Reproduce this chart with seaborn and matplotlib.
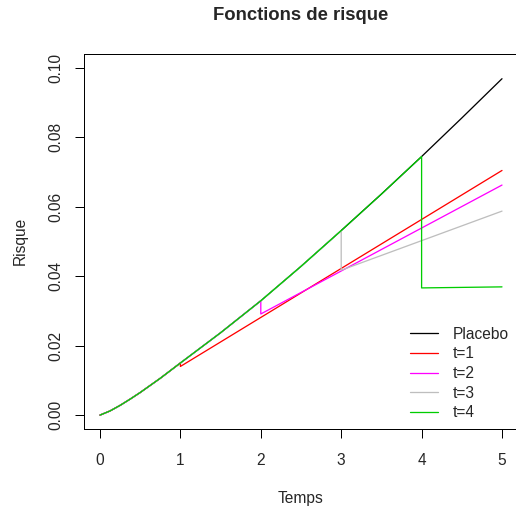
import numpy as np
import pandas as pd
import matplotlib
matplotlib.use("Agg")
import matplotlib.pyplot as plt
from matplotlib.lines import Line2D
import seaborn as sns

# ---- data ----
placebo_t = [0, 0.125, 0.25, 0.375, 0.5, 0.75, 1, 1.5, 2, 2.5, 3, 3.5, 4, 4.5, 5]
placebo_r = [0, 0.0012, 0.0028, 0.0046, 0.0065, 0.0106, 0.0150, 0.0237, 0.0329,
             0.0428, 0.0531, 0.0636, 0.0744, 0.0855, 0.0968]

switch_times = [1, 2, 3, 4]
drop_values = [0.0140, 0.0291, 0.0417, 0.0366]   # risk right after switching
end_values = [0.0704, 0.0662, 0.0587, 0.0369]    # risk at time 5

series_names = ["Placebo", "t=1", "t=2", "t=3", "t=4"]
series_colors = ["#000000", "#FF0000", "#FF00FF", "#BEBEBE", "#00CD00"]

x_ticks = [0, 1, 2, 3, 4, 5]
y_ticks = [0.00, 0.02, 0.04, 0.06, 0.08, 0.10]
y_tick_labels = ["0.00", "0.02", "0.04", "0.06", "0.08", "0.10"]

# ---- build long table ----
rows = []
for t, r in zip(placebo_t, placebo_r):
    rows.append(("Placebo", t, r))
for name, ts, d, e in zip(series_names[1:], switch_times, drop_values, end_values):
    for t, r in zip(placebo_t, placebo_r):
        if t <= ts:
            rows.append((name, t, r))
    rows.append((name, ts, d))
    rows.append((name, 5, e))
df = pd.DataFrame(rows, columns=["serie", "Temps", "Risque"])

sns.set_style("white")
plt.rcParams["font.family"] = ["Liberation Sans", "DejaVu Sans"]

W, H = 516, 510
FS = 15.5
fig = plt.figure(figsize=(W / 72, H / 72), dpi=72)
right_px = 522
ax = fig.add_axes([84 / W, 81 / H, (right_px - 84) / W, 375.3 / H])

sns.lineplot(data=df, x="Temps", y="Risque", hue="serie", hue_order=series_names,
             palette=dict(zip(series_names, series_colors)), sort=False,
             estimator=None, linewidth=1.3, ax=ax, legend=False)

ppu = (502 - 100) / 5.0
ax.set_xlim((84 - 100) / ppu, (right_px - 100) / ppu)
ax.set_ylim(-0.004, 0.104)
ax.set_xticks(x_ticks)
ax.set_xticklabels([str(v) for v in x_ticks])
ax.set_yticks(y_ticks)
ax.set_yticklabels(y_tick_labels, rotation=90, va="center")

for s in ax.spines.values():
    s.set_visible(True)
    s.set_color("black")
    s.set_linewidth(1)

ax.tick_params(axis="both", direction="out", length=9, width=1, color="black",
               labelsize=FS, bottom=True, left=True)
ax.tick_params(axis="x", pad=15)
ax.tick_params(axis="y", pad=12)

ax.set_xlabel("Temps", fontsize=FS)
ax.xaxis.label.set_va("center")
ax.xaxis.set_label_coords((301 - 84) / (right_px - 84), (11 - 81) / 375.3)
ax.set_ylabel("Risque", fontsize=FS)
ax.yaxis.label.set_va("center")
ax.yaxis.set_label_coords((20 - 84) / (right_px - 84), 0.5)

ax.set_title("Fonctions de risque", fontsize=18.5, fontweight="bold",
             x=(300.5 - 84) / (right_px - 84), y=(488 - 81) / 375.3, va="center")

handles = [Line2D([], [], color=c, linewidth=1.3) for c in series_colors]
leg = fig.legend(handles, series_names, loc="upper left",
                 bbox_to_anchor=(396 / W, (H - 312.8) / H), bbox_transform=fig.transFigure,
                 frameon=False, fontsize=FS, handlelength=28 / FS, handletextpad=15 / FS,
                 labelspacing=0.30, borderpad=0.4)

fig.savefig("out.png", dpi=72)
